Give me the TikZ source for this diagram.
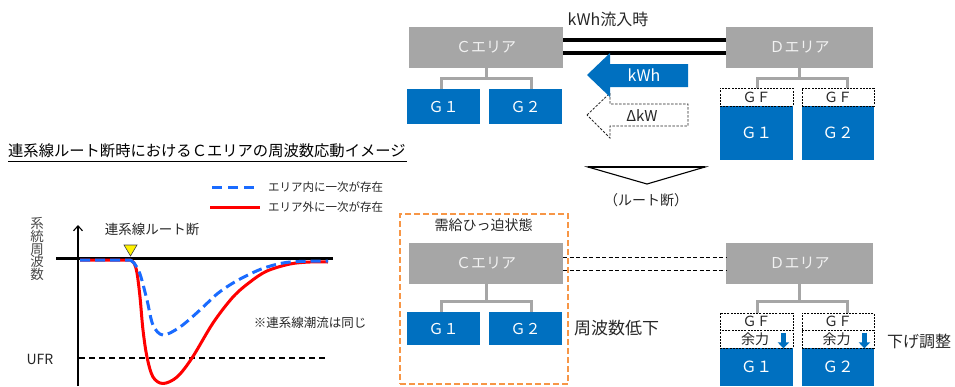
\documentclass[tikz,border=0pt]{standalone}
\usepackage{fontspec}
\setmainfont{Noto Sans CJK JP}
\usetikzlibrary{arrows.meta,calc}
\definecolor{boxgray}{HTML}{A6A6A6}
\definecolor{gblue}{HTML}{0070C0}
\definecolor{ltxt}{HTML}{F2F2F2}
\definecolor{dtxt}{HTML}{262626}
\definecolor{orng}{HTML}{F79646}
\definecolor{cblue}{HTML}{1A6BFF}
\definecolor{cred}{HTML}{FF0000}
\newcommand\myfs[1]{\fontsize{#1}{#1}\selectfont}
\begin{document}
\begin{tikzpicture}[x=1pt,y=-1pt,
 area/.style={fill=boxgray, draw=none, minimum width=154pt, minimum height=41pt, inner sep=0pt, text=ltxt, font=\myfs{15}},
 gen/.style={fill=gblue, draw=none, minimum width=73pt, minimum height=35pt, inner sep=0pt, text=white, font=\myfs{15}},
 gfbox/.style={draw=black, dash pattern=on 2pt off 1.2pt, line width=0.8pt, fill=white, minimum width=72pt, minimum height=18pt, inner sep=0pt, text=dtxt, font=\myfs{14}},
 brk/.style={draw=boxgray, line width=3pt},
 lbl/.style={inner sep=0pt, text=dtxt},
 dnarr/.style={draw=gblue, line width=4.5pt, -{Triangle[length=6pt,width=11pt]}},
]
\useasboundingbox (0,0) rectangle (955,386);

% ---------------- left: chart ----------------
\node[lbl, text=black, anchor=west, font=\myfs{15.3}] (ttl) at (8,151) {連系線ルート断時におけるＣエリアの周波数応動イメージ};
\draw[line width=0.8pt] (8,161) -- (407,161);

\coordinate (lb1) at (212,187);
\coordinate (lb2) at (210,207);
\draw[cblue, line width=3pt, dash pattern=on 10pt off 6pt] (lb1) -- ++(48,0);
\draw[cred, line width=3pt] (lb2) -- ++(50,0);
\node[lbl, anchor=west, font=\myfs{11.5}] (lgb) at (268,187) {エリア内に一次が存在};
\node[lbl, anchor=west, font=\myfs{11.5}] (lgr) at (268,207) {エリア外に一次が存在};

\node[lbl, align=center, font=\myfs{13.5}, text=dtxt!85] (ylab) at (37,249) {系\\[-0.8pt]統\\[-0.8pt]周\\[-0.8pt]波\\[-0.8pt]数};

\coordinate (ax0) at (78,386);
\coordinate (ax1) at (78,225);
\draw[line width=1.1pt, -{Straight Barb[length=5pt,width=9pt]}] (ax0) -- (ax1);

\node[lbl, font=\myfs{13.5}] (brk1) at (152,229) {連系線ルート断};
\draw[fill=yellow, draw=black!75, line width=0.6pt] (124,245) -- (137,245) -- (130.5,256) -- cycle;

\draw[line width=3pt] (56,258) -- (333,258);
\draw[dash pattern=on 6pt off 4pt, line width=1.2pt] (79,358) -- (327,358);
\node[lbl, font=\myfs{14}] (ufr) at (40,359) {UFR};
\node[lbl, font=\myfs{12.5}] (note) at (310,323) {※連系線潮流は同じ};

\draw[cred, line width=3pt, line join=round] (80,260) -- (130,260)
  plot[smooth, tension=0.55] coordinates {(130,260) (134,263) (137,273) (140,297) (143,330) (147,357) (153,377) (163,383.5) (177,377) (192,358) (213,323) (233,297) (250,282) (267,271) (290,264) (310,262) (328,262)};
\draw[cblue, line width=3pt, dash pattern=on 10pt off 5pt] (80,260) -- (130,260)
  plot[smooth, tension=0.55] coordinates {(130,260) (134,263) (140,274) (147,300) (153,325) (163,335) (180,327) (200,310) (217,294) (233,283) (250,274) (267,267) (290,262) (328,261)};

% ---------------- top right ----------------
\node[area] (cA) at (486,47.5) {Ｃエリア};
\node[area, minimum width=147pt] (dA) at (799.5,47.5) {Ｄエリア};
\node[gen] (g1) at (443.5,106.5) {Ｇ１};
\node[gen] (g2) at (525.5,106.5) {Ｇ２};
\draw[brk] (cA.south) -- ++(0,11);
\draw[brk] ([xshift=-2pt]g1.north) -- ++(0,-10) -- ([xshift=6pt,yshift=10pt]g2.north) -- ([xshift=6pt]g2.north);

\draw[line width=3.5pt] (cA.east |- 0,40) -- (dA.west |- 0,40);
\draw[line width=3.5pt] (cA.east |- 0,53) -- (dA.west |- 0,53);
\node[lbl, font=\myfs{16}] (kwhin) at (608,19) {kWh流入時};

\node[gen, minimum height=54pt, font=\myfs{15.5}] (dg1) at (756.5,133) {Ｇ１};
\node[gen, minimum width=72pt, minimum height=54pt, font=\myfs{15.5}] (dg2) at (838,133) {Ｇ２};
\node[gfbox, minimum width=73pt] (dgf1) at (756.5,97) {ＧＦ};
\node[gfbox] (dgf2) at (838,97) {ＧＦ};
\draw[brk] (dA.south) -- ++(0,11);
\draw[brk] ([xshift=0.5pt]dgf1.north) -- ++(0,-9) -- ([xshift=9pt,yshift=9pt]dgf2.north) -- ([xshift=9pt]dgf2.north);

% delta kW arrow (dashed)
\draw[draw=black!85, fill=white, line width=0.8pt, dash pattern=on 2.5pt off 1.5pt]
  (587,115) -- (610,93) -- (610,104) -- (688,104) -- (688,126) -- (610,126) -- (610,138) -- cycle;
\node[lbl, font=\myfs{15}] (dkw) at (642,115.5) {ΔkW};
% kWh arrow
\fill[gblue] (587,75) -- (610,53) -- (610,64) -- (688,64) -- (688,87) -- (610,87) -- (610,97) -- cycle;
\node[lbl, text=white, font=\myfs{16}] (kwh) at (644,75.5) {kWh};

% route break triangle
\draw[line width=1.1pt, line join=miter] (588,167) -- (705,167) -- (647,184) -- cycle;
\draw[line width=2.2pt] (588,167) -- (705,167);
\node[lbl, font=\myfs{14}] (rb) at (646,200) {（ルート断）};

% ---------------- bottom right ----------------
\node[draw=orng, line width=1.8pt, dash pattern=on 6pt off 3pt, minimum width=168pt, minimum height=170pt, inner sep=0pt] (frame) at (484,299) {};
\node[lbl, font=\myfs{14}] (tight) at (483.5,225) {需給ひっ迫状態};

\node[area] (cB) at (486,263.5) {Ｃエリア};
\node[area, minimum width=147pt] (dB) at (799.5,263.5) {Ｄエリア};
\node[gen, minimum height=33pt] (lg1) at (443.5,328.5) {Ｇ１};
\node[gen, minimum height=33pt] (lg2) at (525.5,328.5) {Ｇ２};
\draw[brk] (cB.south) -- ++(0,18);
\draw[brk] ([xshift=-2pt]lg1.north) -- ++(0,-10) -- ([xshift=6pt,yshift=10pt]lg2.north) -- ([xshift=6pt]lg2.north);

\draw[line width=0.9pt, dash pattern=on 4pt off 2.5pt] (cB.east |- 0,257) -- (dB.west |- 0,257);
\draw[line width=0.9pt, dash pattern=on 4pt off 2.5pt] (cB.east |- 0,270) -- (dB.west |- 0,270);

\node[lbl, anchor=west, font=\myfs{17}] (fdown) at (574,328) {周波数低下};

\node[gen, minimum height=38pt, font=\myfs{15.5}] (ldg1) at (756.5,367) {Ｇ１};
\node[gen, minimum width=72pt, minimum height=38pt, font=\myfs{15.5}] (ldg2) at (838,367) {Ｇ２};
\node[gfbox, minimum width=73pt, minimum height=17pt] (ldgf1) at (756.5,321.5) {ＧＦ};
\node[gfbox, minimum height=17pt] (ldgf2) at (838,321.5) {ＧＦ};
\node[gfbox, minimum width=73pt] (lyr1) at (756.5,339) {\hspace*{-3pt}余力};
\node[gfbox] (lyr2) at (838,339) {\hspace*{-3pt}余力};
\draw[dnarr] ($(lyr1.north east)+(-10,3)$) -- ($(lyr1.south east)+(-10,0)$);
\draw[dnarr] ($(lyr2.north east)+(-10,3)$) -- ($(lyr2.south east)+(-10,0)$);
\draw[brk] (dB.south) -- ++(0,18);
\draw[brk] ([xshift=0.5pt]ldgf1.north) -- ++(0,-11) -- ([xshift=9pt,yshift=11pt]ldgf2.north) -- ([xshift=9pt]ldgf2.north);

\node[lbl, anchor=west, font=\myfs{16}] (adj) at (887,341) {下げ調整};
\end{tikzpicture}
\end{document}
